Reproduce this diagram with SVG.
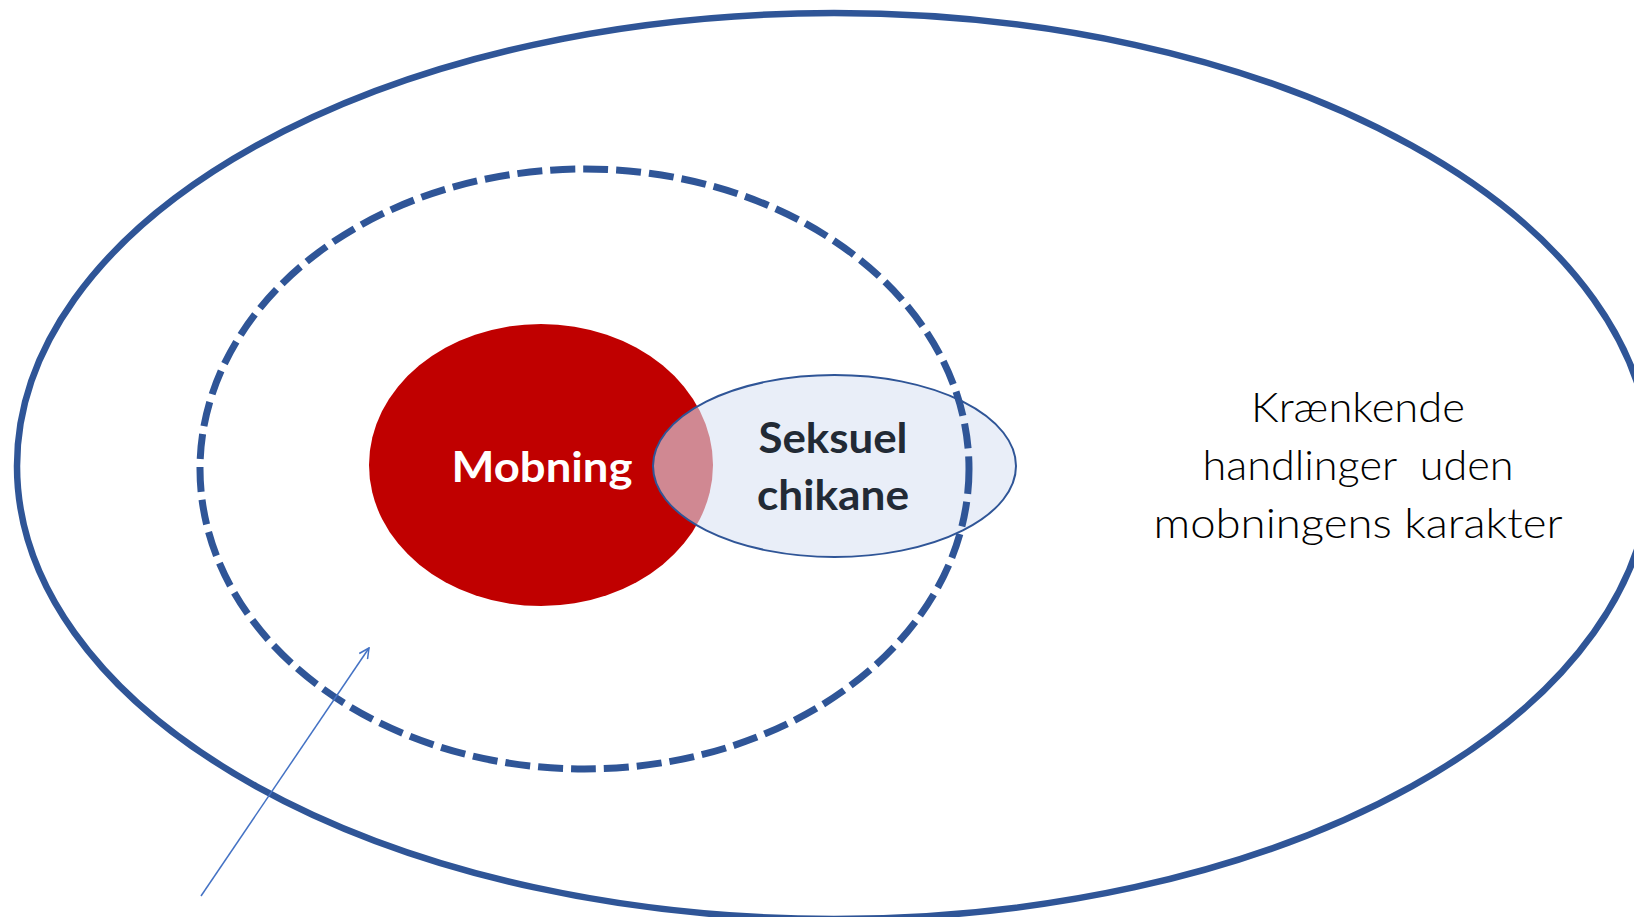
<svg xmlns="http://www.w3.org/2000/svg" width="1634" height="917" viewBox="0 0 1634 917">
<style>
.ring{fill:none;stroke:#2F5597;stroke-width:6.5}
.dash{fill:none;stroke:#2F5597;stroke-width:7;stroke-dasharray:25 8}
.lbl{font-family:Lato,"Open Sans","Liberation Sans",sans-serif;text-anchor:middle}
.b{font-weight:700;font-size:42px}
.l{font-weight:300;font-size:41px;fill:#000}
</style>
<defs>
<marker id="arr" viewBox="0 0 12 12" refX="11" refY="6" markerWidth="12" markerHeight="12" markerUnits="userSpaceOnUse" orient="auto">
<path d="M1,1 L11,6 L1,11" fill="none" stroke="#4472C4" stroke-width="1.5"/>
</marker>
</defs>
<rect width="1634" height="917" fill="#fff"/>
<g id="outer">
<ellipse class="ring" cx="834" cy="466" rx="817" ry="453"/>
</g>
<g id="mobning">
<ellipse cx="541" cy="465" rx="172" ry="141" fill="#C00000"/>
<text class="lbl b" x="542" y="482" fill="#fff" textLength="181" lengthAdjust="spacingAndGlyphs">Mobning</text>
</g>
<g id="seksuel">
<ellipse cx="834.5" cy="466" rx="181.5" ry="91" fill="#DAE3F3" fill-opacity="0.6" stroke="#2F5597" stroke-width="2"/>
<text class="lbl b" x="833" y="453" fill="#222A35" textLength="149" lengthAdjust="spacingAndGlyphs">Seksuel</text>
<text class="lbl b" x="833" y="510" fill="#222A35" textLength="152" lengthAdjust="spacingAndGlyphs">chikane</text>
</g>
<g id="inner">
<ellipse class="dash" cx="584.5" cy="469" rx="384.5" ry="300"/>
</g>
<g id="connectors">
<line x1="201" y1="896" x2="369" y2="648" stroke="#4472C4" stroke-width="1.5" marker-end="url(#arr)"/>
</g>
<g id="kraenkende">
<text class="lbl l" x="1358" y="422" textLength="214" lengthAdjust="spacingAndGlyphs">Krænkende</text>
<text class="lbl l" x="1358" y="480" textLength="311" lengthAdjust="spacingAndGlyphs" xml:space="preserve">handlinger  uden</text>
<text class="lbl l" x="1358" y="538" textLength="409" lengthAdjust="spacingAndGlyphs">mobningens karakter</text>
</g>
</svg>
